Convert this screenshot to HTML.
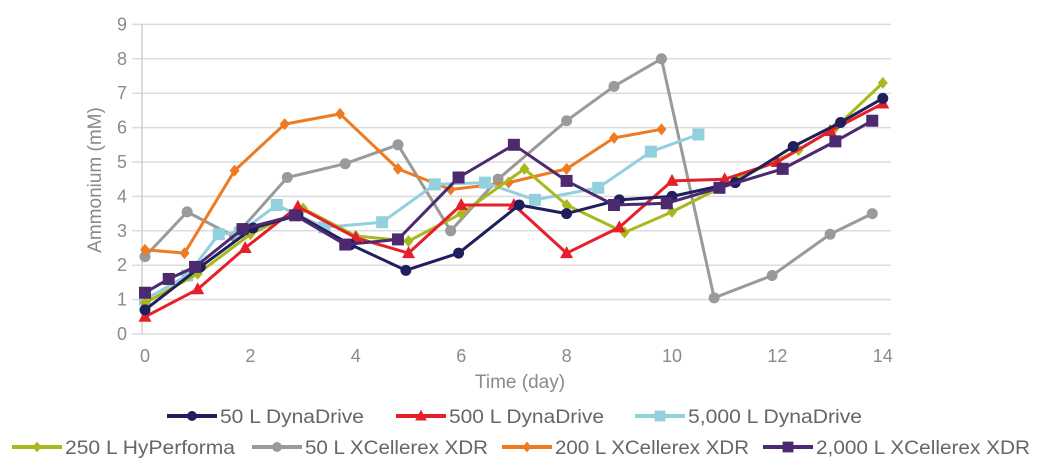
<!DOCTYPE html>
<html><head><meta charset="utf-8"><style>
body{margin:0;background:#fff;width:1046px;height:469px;overflow:hidden}
svg{display:block;font-family:"Liberation Sans",sans-serif}
</style></head><body>
<svg id="chart" width="1046" height="469" viewBox="0 0 1046 469"></svg>
<script>
const yTicks=[0,1,2,3,4,5,6,7,8,9];
const xTicks=[0,2,4,6,8,10,12,14];
const seriesNames=["50 L DynaDrive","500 L DynaDrive","5,000 L DynaDrive","250 L HyPerforma","50 L XCellerex XDR","200 L XCellerex XDR","2,000 L XCellerex XDR"];
const s50DD=[[0,0.7],[1.05,1.95],[2.05,3.08],[2.9,3.45],[3.9,2.6],[4.95,1.85],[5.95,2.35],[7.1,3.75],[8,3.5],[9,3.9],[10,4],[11.2,4.4],[12.3,5.45],[13.2,6.15],[14,6.85]];
const s500DD=[[0,0.5],[1,1.3],[1.9,2.5],[2.9,3.7],[4,2.8],[5,2.35],[6,3.75],[7,3.75],[8,2.35],[9,3.1],[10,4.45],[11,4.5],[12,5.0],[13,5.9],[14,6.7]];
const s5000DD=[[0,1.0],[0.8,1.7],[1.4,2.9],[1.8,2.95],[2.5,3.75],[3.4,3.1],[4.5,3.25],[5.5,4.35],[6.45,4.4],[7.4,3.9],[8.6,4.25],[9.6,5.3],[10.5,5.8]];
const s250HP=[[0,0.9],[1,1.75],[2,2.9],[3,3.65],[4,2.85],[5,2.7],[6,3.5],[7.2,4.8],[8,3.75],[9.1,2.95],[10,3.55],[11.3,4.55],[12.4,5.35],[13.1,6.0],[14,7.3]];
const s50XDR=[[0,2.25],[0.8,3.55],[1.7,2.83],[2.7,4.55],[3.8,4.95],[4.8,5.5],[5.8,3.0],[6.7,4.5],[8,6.2],[8.9,7.2],[9.8,8.0],[10.8,1.05],[11.9,1.7],[13,2.9],[13.8,3.5]];
const s200XDR=[[0,2.45],[0.75,2.35],[1.7,4.75],[2.65,6.1],[3.7,6.4],[4.8,4.8],[5.8,4.2],[6.9,4.4],[8,4.8],[8.9,5.7],[9.8,5.95]];
const s2000XDR=[[0,1.2],[0.45,1.6],[0.95,1.95],[1.85,3.05],[2.85,3.45],[3.8,2.6],[4.8,2.75],[5.95,4.55],[7.0,5.5],[8,4.45],[8.9,3.75],[9.9,3.8],[10.9,4.25],[12.1,4.8],[13.1,5.6],[13.8,6.2]];

const NS="http://www.w3.org/2000/svg";
const svg=document.getElementById('chart');
const X=d=>145+d*52.7, Y=v=>334-v*34.4;
function mk(t,a,p){const e=document.createElementNS(NS,t);for(const k in a)e.setAttribute(k,a[k]);(p||svg).appendChild(e);return e;}

yTicks.forEach(v=>{
  const g=mk('line',{x1:132,x2:891,y1:Y(v),y2:Y(v),stroke:'#dcdcdc','stroke-width':1.5});
  
  
  const t=mk('text',{x:127,y:Y(v)+6,'text-anchor':'end','font-size':18,fill:'#8a8a8a'});t.textContent=v;
  
  
});
const ax=mk('line',{x1:142,x2:142,y1:Y(9),y2:Y(0),stroke:'#d0d0d0','stroke-width':1.5});


xTicks.forEach(v=>{
  const t=mk('text',{x:X(v),y:362,'text-anchor':'middle','font-size':18,fill:'#8a8a8a'});t.textContent=v;
  
  
});
const xt=mk('text',{x:520,y:388,'text-anchor':'middle','font-size':19,fill:'#8a8a8a'});xt.textContent='Time (day)';


const yt=mk('text',{x:0,y:0,'text-anchor':'middle','font-size':19,fill:'#8a8a8a',transform:'translate(101,180) rotate(-90)'});yt.textContent='Ammonium (mM)';



function marker(type,x,y,c,s,p){
  let e;
  if(type==='circle')e=mk('circle',{cx:x,cy:y,r:5.5*s,fill:c},p);
  else if(type==='square')e=mk('rect',{x:x-6*s,y:y-6*s,width:12*s,height:12*s,fill:c},p);
  else if(type==='tri')e=mk('polygon',{points:`${x},${y-7*s} ${x+6.5*s},${y+5*s} ${x-6.5*s},${y+5*s}`,fill:c},p);
  else e=mk('polygon',{points:`${x},${y-6*s} ${x+5*s},${y} ${x},${y+6*s} ${x-5*s},${y}`,fill:c},p);
  return e;
}
const defs=[
 [s50XDR,'#9a9a9a','circle'],[s200XDR,'#ee7a22','diamond'],[s5000DD,'#92d0de','square'],
 [s250HP,'#a9b81c','diamond'],[s500DD,'#e5202b','tri'],[s50DD,'#1f1f5e','circle'],[s2000XDR,'#4d2a70','square']];
const idx=[4,5,2,3,1,0,6];
defs.forEach(([d,c,m],i)=>{
  const g=mk('g',{});
  
  
  mk('polyline',{points:d.map(p=>X(p[0])+','+Y(p[1])).join(' '),fill:'none',stroke:c,'stroke-width':3,'stroke-linejoin':'round'},g);
  d.forEach(p=>{const e=marker(m,X(p[0]),Y(p[1]),c,1,g);
    
    });
});
const leg=[[0,167,416,'#1f1f5e','circle',144],[1,396,416,'#e5202b','tri',155],[2,635,416,'#92d0de','square',174],
 [3,12,447,'#a9b81c','diamond',170],[4,252,447,'#9a9a9a','circle',183],[5,502,447,'#ee7a22','diamond',194],[6,763,447,'#4d2a70','square',214]];
leg.forEach(([i,x,y,c,m,w])=>{
  const g=mk('g',{});
  
  
  mk('line',{x1:x,x2:x+50,y1:y,y2:y,stroke:c,'stroke-width':4},g);
  marker(m,x+25,y,c,0.9,g);
  const t=mk('text',{x:x+53,y:y+7,'font-size':19,fill:'#666',textLength:w,lengthAdjust:'spacingAndGlyphs'},g);t.textContent=seriesNames[i];
});
</script>
</body></html>
